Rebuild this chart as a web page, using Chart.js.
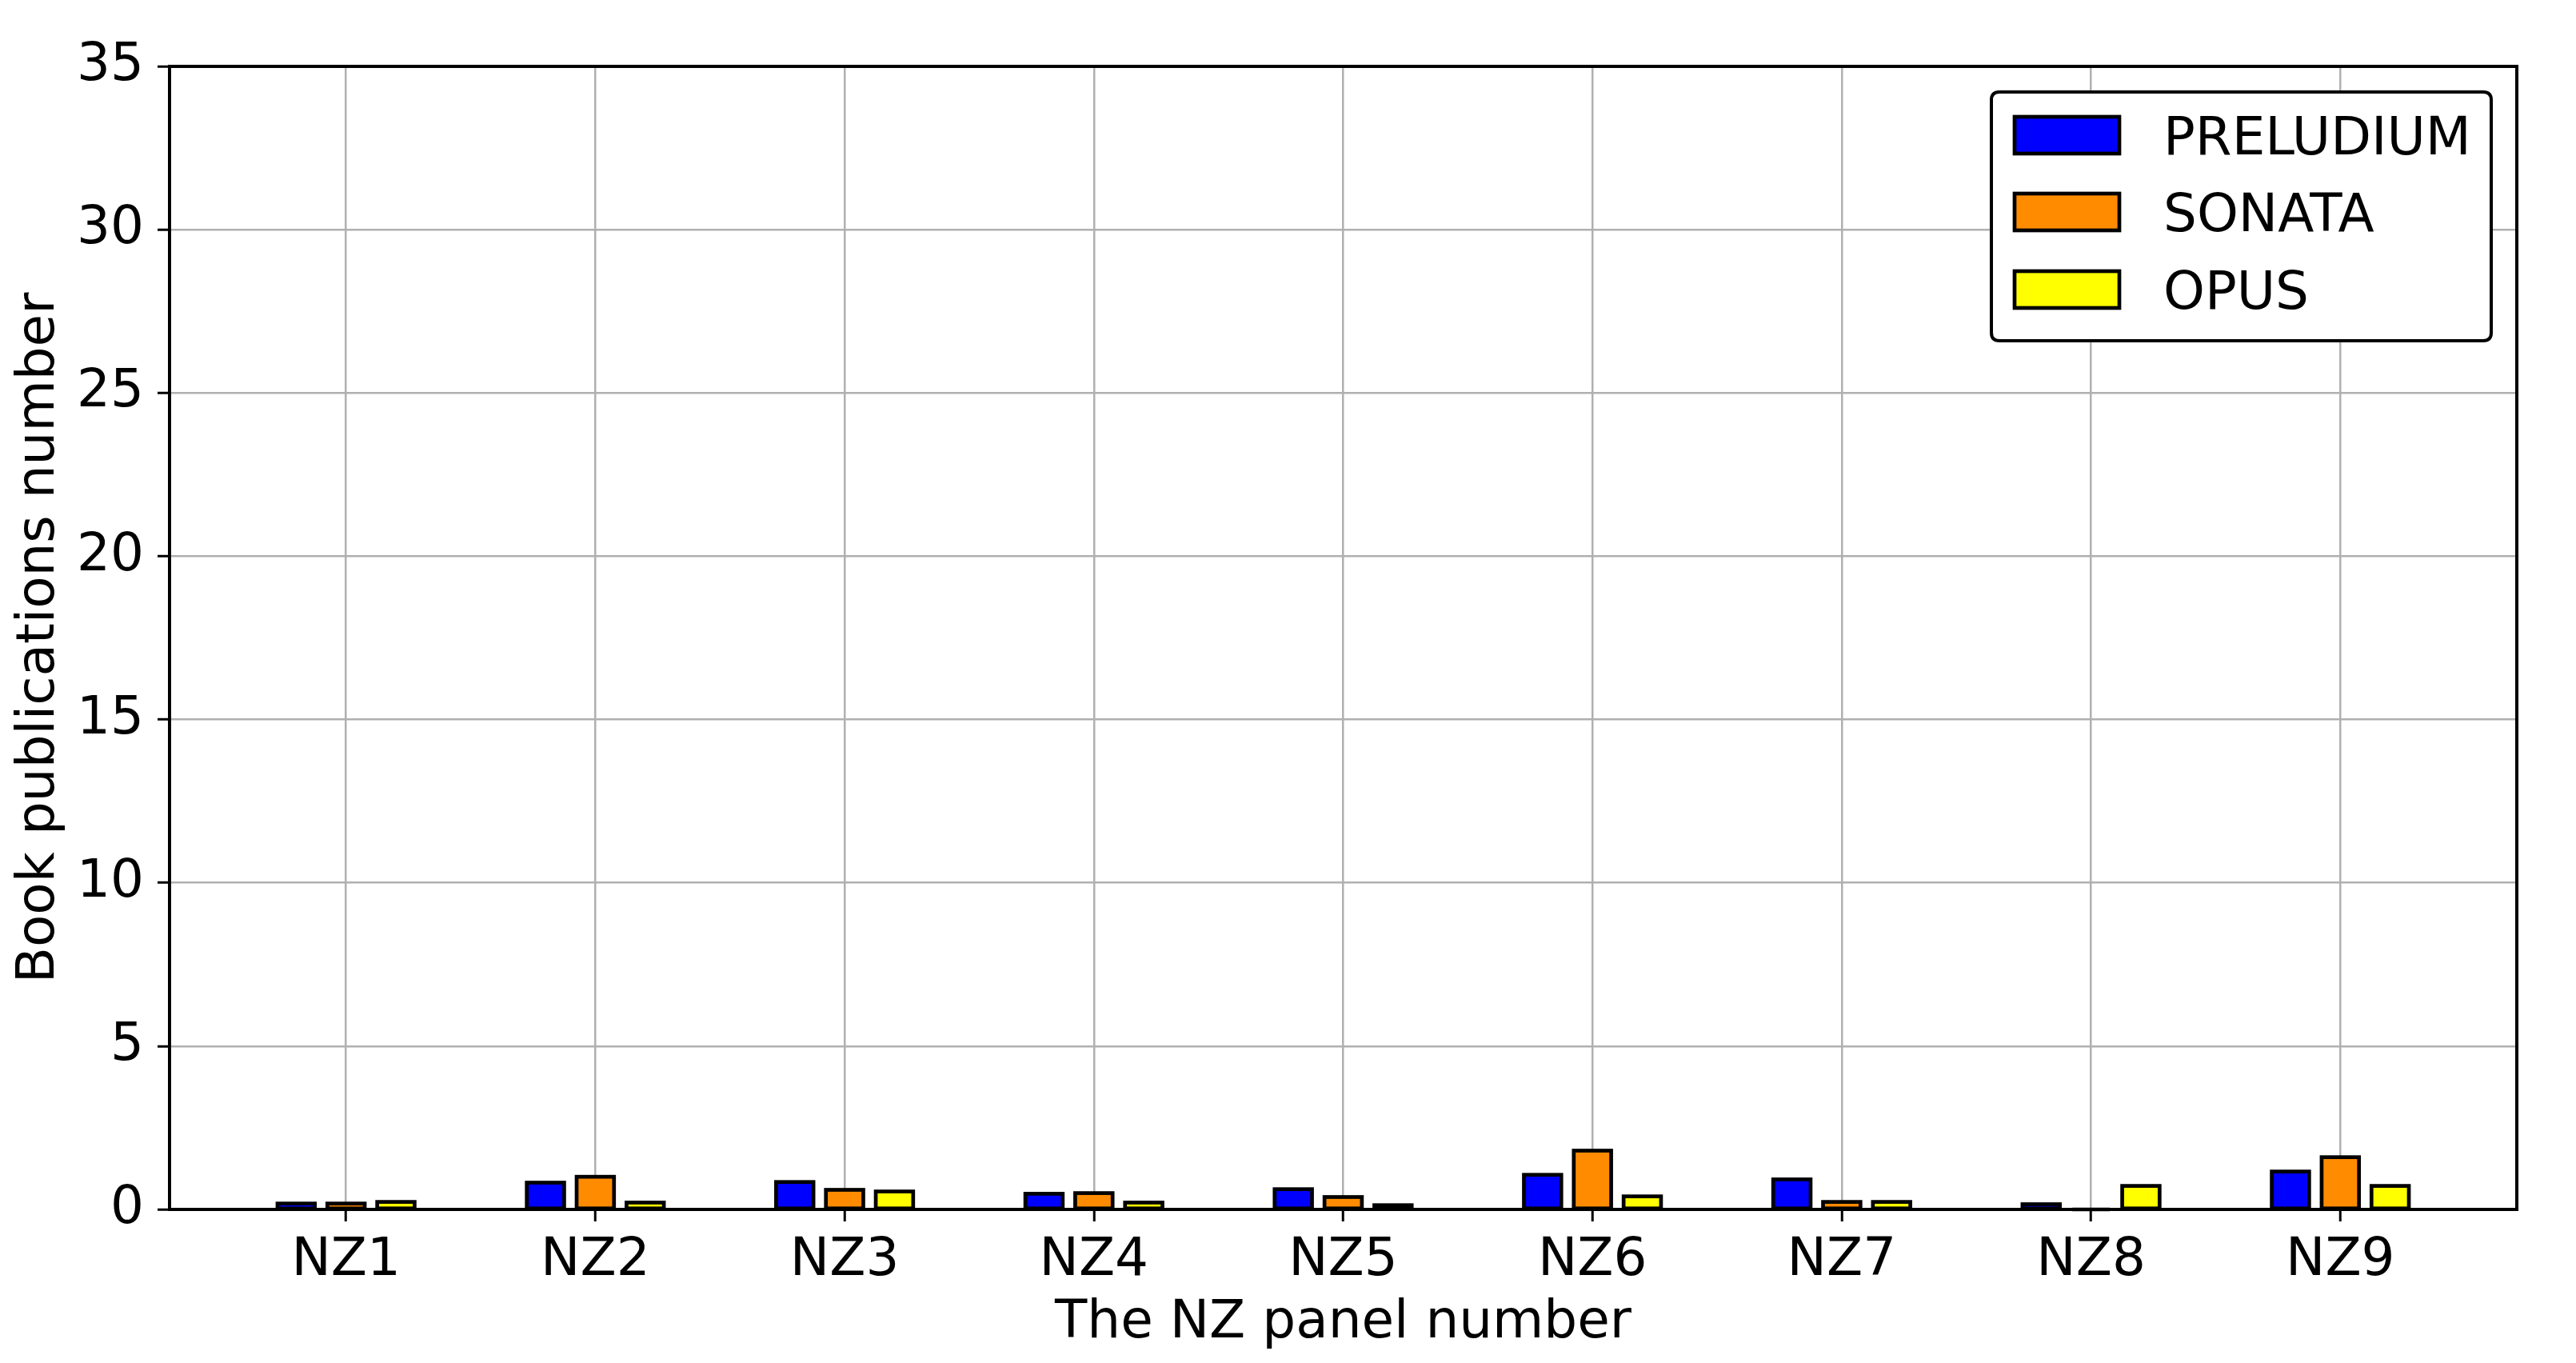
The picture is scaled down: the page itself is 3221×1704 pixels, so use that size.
<!DOCTYPE html>
<html>
<head>
<meta charset="utf-8">
<script src="https://cdn.jsdelivr.net/npm/chart.js@4/dist/chart.umd.min.js"></script>
<style>
  html, body { margin: 0; padding: 0; background: #ffffff; }
  #wrap { width: 3221px; height: 1704px; position: relative; }
</style>
</head>
<body>
<div id="wrap"><canvas id="c" width="3221" height="1704"></canvas></div>
<script>
const categories = ["NZ1", "NZ2", "NZ3", "NZ4", "NZ5", "NZ6", "NZ7", "NZ8", "NZ9"];
const seriesNames = ["PRELUDIUM", "SONATA", "OPUS"];
const preludium = [0.18, 0.82, 0.84, 0.48, 0.62, 1.06, 0.92, 0.16, 1.16];
const sonata    = [0.18, 1.00, 0.60, 0.50, 0.38, 1.80, 0.23, 0.00, 1.60];
const opus      = [0.23, 0.21, 0.55, 0.21, 0.13, 0.40, 0.23, 0.72, 0.72];
const yTicks = [0, 5, 10, 15, 20, 25, 30, 35];
const colors = ["#0000ff", "#ff8c00", "#ffff00"];

const FONT = "DejaVu Sans";
const FS = 66;

function toPoints(arr) { return arr.map((v, i) => ({ x: i, y: v })); }

const seriesValues = [preludium, sonata, opus];
const datasets = seriesNames.map((name, k) => ({
  label: name,
  data: toPoints(seriesValues[k]),
  backgroundColor: colors[k],
  borderColor: "#000000",
  borderWidth: 0,
  barPercentage: 0.75,
  categoryPercentage: 0.6
}));

// matplotlib-style edge: stroke centred on the bar rectangle
const edgePlugin = {
  id: "barEdges",
  afterDatasetsDraw(chart) {
    const ctx = chart.ctx;
    ctx.save();
    ctx.strokeStyle = "#000";
    ctx.lineWidth = 4.7;
    chart.data.datasets.forEach((ds, i) => {
      const meta = chart.getDatasetMeta(i);
      meta.data.forEach(el => {
        const p = el.getProps(["x", "y", "base", "width"], true);
        const top = Math.min(p.y, p.base);
        const h = Math.abs(p.base - p.y);
        ctx.strokeRect(p.x - p.width / 2, top, p.width, h);
      });
    });
    ctx.restore();
  }
};

const framePlugin = {
  id: "frame",
  afterDraw(chart) {
    const { ctx, chartArea: a } = chart;
    ctx.save();
    ctx.strokeStyle = "#000";
    ctx.lineWidth = 4;
    ctx.strokeRect(a.left, a.top, a.right - a.left, a.bottom - a.top);
    ctx.restore();
  }
};

const legendPlugin = {
  id: "boxLegend",
  afterDraw(chart) {
    const ctx = chart.ctx;
    const a = chart.chartArea;
    const boxRight = a.right - 32;
    const boxLeft = 2490;
    const boxTop = a.top + 32;
    const boxBottom = a.top + 343;
    ctx.save();
    const r = 10;
    ctx.beginPath();
    ctx.moveTo(boxLeft + r, boxTop);
    ctx.lineTo(boxRight - r, boxTop);
    ctx.quadraticCurveTo(boxRight, boxTop, boxRight, boxTop + r);
    ctx.lineTo(boxRight, boxBottom - r);
    ctx.quadraticCurveTo(boxRight, boxBottom, boxRight - r, boxBottom);
    ctx.lineTo(boxLeft + r, boxBottom);
    ctx.quadraticCurveTo(boxLeft, boxBottom, boxLeft, boxBottom - r);
    ctx.lineTo(boxLeft, boxTop + r);
    ctx.quadraticCurveTo(boxLeft, boxTop, boxLeft + r, boxTop);
    ctx.closePath();
    ctx.fillStyle = "#ffffff";
    ctx.fill();
    ctx.lineWidth = 4;
    ctx.strokeStyle = "#000";
    ctx.stroke();
    const rows = [169, 265, 362];
    chart.data.datasets.forEach((ds, i) => {
      const cy = rows[i];
      ctx.fillStyle = ds.backgroundColor;
      ctx.fillRect(2519, cy - 23, 131, 46);
      ctx.lineWidth = 4.7;
      ctx.strokeStyle = "#000";
      ctx.strokeRect(2519, cy - 23, 131, 46);
      ctx.fillStyle = "#000";
      ctx.font = FS + "px '" + FONT + "'";
      ctx.textBaseline = "alphabetic";
      ctx.textAlign = "left";
      ctx.fillText(ds.label, 2705, cy + 24);
    });
    ctx.restore();
  }
};

new Chart(document.getElementById("c"), {
  type: "bar",
  data: { datasets },
  options: {
    responsive: false,
    animation: false,
    devicePixelRatio: 1,
    layout: { padding: { left: 0, right: 74, top: 83, bottom: 0 } },
    plugins: { legend: { display: false }, tooltip: { enabled: false } },
    scales: {
      x: {
        type: "linear",
        min: -0.708,
        max: 8.708,
        offset: false,
        z: 1,
        afterBuildTicks(scale) {
          scale.ticks = categories.map((_, i) => ({ value: i }));
        },
        afterFit(scale) { scale.height = 1704 - 1512; },
        ticks: {
          autoSkip: false,
          maxRotation: 0,
          padding: 10,
          color: "#000",
          font: { family: FONT, size: FS },
          callback: (v) => categories[Math.round(v)] ?? ""
        },
        grid: {
          offset: false,
          color: "#b0b0b0",
          lineWidth: 2.5,
          drawTicks: true,
          tickLength: 15,
          tickColor: "#000",
          tickWidth: 3
        },
        border: { display: false },
        title: {
          display: true,
          text: "The NZ panel number",
          color: "#000",
          font: { family: FONT, size: FS },
          padding: { top: 0, bottom: 10 }
        }
      },
      y: {
        min: 0,
        max: 35,
        z: 1,
        afterBuildTicks(scale) {
          scale.ticks = yTicks.map(v => ({ value: v }));
        },
        afterFit(scale) { scale.width = 212; },
        ticks: {
          padding: 17,
          color: "#000",
          font: { family: FONT, size: FS }
        },
        grid: {
          color: "#b0b0b0",
          lineWidth: 2.5,
          drawTicks: true,
          tickLength: 15,
          tickColor: "#000",
          tickWidth: 3
        },
        border: { display: false },
        title: {
          display: true,
          text: "Book publications number",
          color: "#000",
          font: { family: FONT, size: FS },
          padding: { top: 10, bottom: 0 }
        }
      }
    }
  },
  plugins: [edgePlugin, framePlugin, legendPlugin]
});
</script>
</body>
</html>
